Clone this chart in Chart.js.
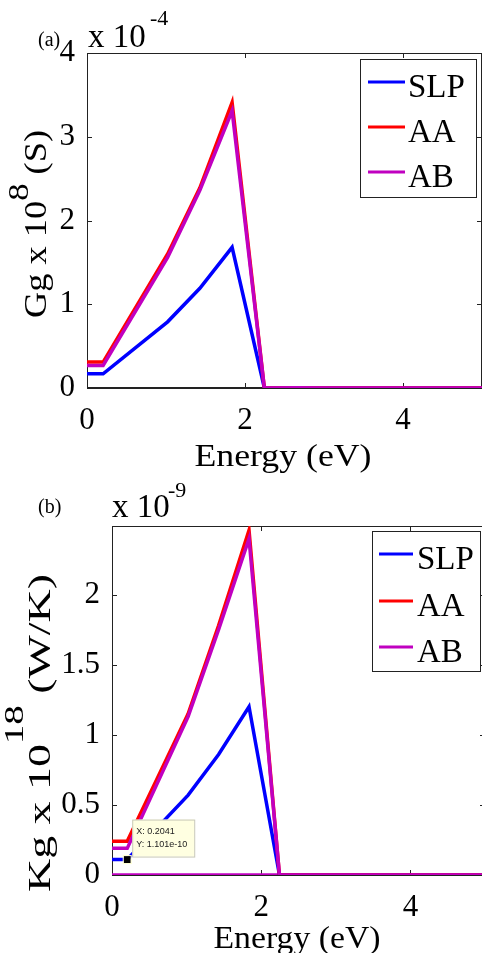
<!DOCTYPE html>
<html>
<head>
<meta charset="utf-8">
<script src="https://cdn.jsdelivr.net/npm/chart.js@4.4.1/dist/chart.umd.min.js"></script>
<style>
  html, body { margin:0; padding:0; background:#fff; width:482px; height:953px; overflow:hidden; }
  canvas { position:absolute; left:0; }
  #cA { top:0; }
  #cB { top:480px; }
</style>
</head>
<body>
<canvas id="cA" width="482" height="480"></canvas>
<canvas id="cB" width="485" height="473"></canvas>
<script>
// energy (eV) at the kinks of the curves
const energy = [0, 0.2041, 1.0204, 1.4286, 1.8367, 2.2449, 2.6531, 3.0612, 5];

// (a) Gg, units of 1e-4
const ggSLP = [0.17, 0.17, 0.79, 1.19, 1.68, 0, 0, 0, 0];
const ggAA  = [0.31, 0.31, 1.60, 2.39, 3.41, 0, 0.003, 0, 0];
const ggAB  = [0.27, 0.27, 1.56, 2.36, 3.31, 0, 0.003, 0, 0];

// (b) Kg, units of 1e-9
const kgSLP = [0.1101, 0.1101, 0.57, 0.86, 1.20, 0, 0, 0, 0];
const kgAA  = [0.24, 0.24, 1.15, 1.78, 2.46, 0, 0, 0, 0];
const kgAB  = [0.19, 0.19, 1.13, 1.75, 2.40, 0, 0, 0, 0];
const kgBaseX = [0, 5];
const kgBase  = [0, 0];

const xTicks  = [0, 2, 4];
const ggTicks = [0, 1, 2, 3, 4];
const kgTicks = [0, 0.5, 1, 1.5, 2];

// data tip on SLP (b)
const tipX = 0.2041, tipY = 0.1101;
const tipLines = ['X: 0.2041', 'Y: 1.101e-10'];

const SERIF = '"Liberation Serif", "Times New Roman", serif';
const COL = { SLP: '#0000ff', AA: '#ff0000', AB: '#c000c0' };

const pts = (xs, ys) => xs.map((x, i) => ({ x, y: ys[i] }));

function ds(label, xs, ys, color, order) {
  return { label, data: pts(xs, ys), borderColor: color, backgroundColor: color, order,
           borderWidth: 3.5, pointRadius: 0, tension: 0, borderJoinStyle: 'miter', fill: false };
}

// rich text: parts = [text, sizeFactor, raisePx]
function drawRich(ctx, parts, size, x, y, len, rotate) {
  ctx.save();
  let w = 0;
  parts.forEach(p => { ctx.font = (size * p[1]) + 'px ' + SERIF; w += ctx.measureText(p[0]).width; });
  const s = len ? len / w : 1;
  ctx.translate(x, y);
  if (rotate) ctx.rotate(-Math.PI / 2);
  ctx.scale(s, 1);
  ctx.fillStyle = '#000';
  ctx.textBaseline = 'alphabetic';
  ctx.textAlign = 'left';
  let cx = -w / 2;
  parts.forEach(p => {
    ctx.font = (size * p[1]) + 'px ' + SERIF;
    ctx.fillText(p[0], cx, -p[2]);
    cx += ctx.measureText(p[0]).width;
  });
  ctx.restore();
}

const deco = {
  id: 'deco',
  beforeDatasetsDraw(chart) {
    const ctx = chart.ctx, a = chart.chartArea;
    const sx = chart.scales.x, sy = chart.scales.y;
    ctx.save();
    // axes box + inward ticks
    ctx.strokeStyle = '#222'; ctx.lineWidth = 1;
    ctx.strokeRect(a.left + 0.5, a.top + 0.5, a.right - a.left - 1, a.bottom - a.top - 1);
    ctx.beginPath();
    sx.ticks.forEach(t => {
      const px = Math.round(sx.getPixelForValue(t.value)) + 0.5;
      ctx.moveTo(px, a.bottom); ctx.lineTo(px, a.bottom - 5);
      ctx.moveTo(px, a.top); ctx.lineTo(px, a.top + 5);
    });
    sy.ticks.forEach(t => {
      const py = Math.round(sy.getPixelForValue(t.value)) + 0.5;
      ctx.moveTo(a.left, py); ctx.lineTo(a.left + 5, py);
      ctx.moveTo(a.right, py); ctx.lineTo(a.right - 5, py);
    });
    ctx.stroke();
    ctx.restore();
  },
  afterDatasetsDraw(chart, args, o) {
    const ctx = chart.ctx;
    const sx = chart.scales.x, sy = chart.scales.y;
    ctx.save();

    // labels
    drawRich(ctx, o.ylabel.parts, o.ylabel.size, o.ylabel.x, o.ylabel.y, o.ylabel.len, true);
    drawRich(ctx, [[o.xlabel.text, 1, 0]], o.xlabel.size, o.xlabel.x, o.xlabel.y, o.xlabel.len, false);

    ctx.fillStyle = '#000';
    ctx.textAlign = 'left'; ctx.textBaseline = 'alphabetic';
    ctx.font = '33px ' + SERIF;
    ctx.fillText('x 10', o.expo.x, o.expo.y);
    ctx.font = '22px ' + SERIF;
    ctx.fillText(o.expo.sup, o.expo.supX, o.expo.supY);
    ctx.font = '20px ' + SERIF;
    ctx.fillText(o.tag.text, o.tag.x, o.tag.y);

    // legend
    const L = o.legend;
    ctx.fillStyle = '#fff';
    ctx.fillRect(L.box[0], L.box[1], L.box[2], L.box[3]);
    ctx.strokeStyle = '#222'; ctx.lineWidth = 1;
    ctx.strokeRect(L.box[0] + 0.5, L.box[1] + 0.5, L.box[2], L.box[3]);
    const items = chart.data.datasets.filter(d => d.label);
    items.forEach((d, i) => {
      const yy = L.rows[i];
      ctx.strokeStyle = d.borderColor; ctx.lineWidth = 3;
      ctx.beginPath(); ctx.moveTo(L.lineX[0], yy); ctx.lineTo(L.lineX[1], yy); ctx.stroke();
      ctx.fillStyle = '#000';
      ctx.font = '33px ' + SERIF;
      ctx.fillText(d.label, L.textX, yy + L.dy);
    });

    // data tip
    if (o.tip) {
      const px = sx.getPixelForValue(tipX), py = sy.getPixelForValue(tipY);
      ctx.fillStyle = '#000';
      ctx.fillRect(px - 3.5, py - 3.5, 7, 7);
      ctx.strokeStyle = '#ffffd0'; ctx.lineWidth = 1;
      ctx.strokeRect(px - 4, py - 4, 8, 8);
      const bx = px + 5, by = py - 40;
      ctx.fillStyle = '#ffffe1';
      ctx.fillRect(bx, by, 62, 37);
      ctx.strokeStyle = '#c8c8b8';
      ctx.strokeRect(bx + 0.5, by + 0.5, 62, 37);
      ctx.fillStyle = '#222';
      ctx.font = '9px "Liberation Sans", Arial, sans-serif';
      ctx.textBaseline = 'middle';
      ctx.fillText(tipLines[0], bx + 4, by + 12);
      ctx.fillText(tipLines[1], bx + 4, by + 25);
    }
    ctx.restore();
  }
};

function makeChart(id, cfg) {
  return new Chart(document.getElementById(id), {
    type: 'line',
    data: { datasets: cfg.datasets },
    options: {
      responsive: false,
      animation: false,
      layout: { padding: { top: cfg.top, right: 0, left: 0, bottom: 0 } },
      plugins: { legend: { display: false }, tooltip: { enabled: false }, deco: cfg.deco },
      scales: {
        x: {
          type: 'linear', min: 0, max: 5,
          afterFit: s => { s.height = cfg.xh; },
          afterBuildTicks: s => { s.ticks = xTicks.map(v => ({ value: v })); },
          grid: { display: false },
          border: { display: true, color: '#222', width: 1 },
          ticks: { color: '#000', font: { family: SERIF, size: 31 }, padding: 6, maxRotation: 0, autoSkip: false,
                   callback: v => String(v) }
        },
        y: {
          type: 'linear', min: 0, max: cfg.ymax,
          afterFit: s => { s.width = cfg.yw; },
          afterBuildTicks: s => { s.ticks = cfg.yTicks.map(v => ({ value: v })); },
          grid: { display: false },
          border: { display: true, color: '#222', width: 1 },
          ticks: { color: '#000', font: { family: SERIF, size: 31 }, padding: 4, autoSkip: false,
                   callback: v => String(v) }
        }
      }
    },
    plugins: [deco]
  });
}

makeChart('cA', {
  top: 53, xh: 92, yw: 87, ymax: 4, yTicks: ggTicks,
  datasets: [
    ds('SLP', energy, ggSLP, COL.SLP, 2),
    ds('AA', energy, ggAA, COL.AA, 1),
    ds('AB', energy, ggAB, COL.AB, 0)
  ],
  deco: {
    ylabel: { parts: [['Gg x 10', 1, 0], ['8', 0.95, 18], [' (S)', 1, 0]], size: 31, x: 46, y: 224, len: 188 },
    xlabel: { text: 'Energy (eV)', size: 31, x: 283, y: 466, len: 177 },
    expo: { x: 88, y: 47, sup: '-4', supX: 150, supY: 25 },
    tag: { text: '(a)', x: 38, y: 46 },
    legend: { box: [360, 59, 116, 138], lineX: [368, 405], rows: [82, 127, 172], textX: 408, dy: 15 }
  }
});

makeChart('cB', {
  top: 46, xh: 78, yw: 112, ymax: 2.49, yTicks: kgTicks,
  datasets: [
    ds('SLP', energy, kgSLP, COL.SLP, 2),
    ds('AA', energy, kgAA, COL.AA, 1),
    ds('AB', energy, kgAB, COL.AB, 0),
    ds('', kgBaseX, kgBase, COL.AB, 3)
  ],
  deco: {
    ylabel: { parts: [['Kg x 10', 1, 0], ['18', 0.85, 27], [' (W/K)', 1, 0]], size: 32, x: 50, y: 253, len: 318 },
    xlabel: { text: 'Energy (eV)', size: 31, x: 297, y: 468, len: 167 },
    expo: { x: 112, y: 37, sup: '-9', supX: 168, supY: 17 },
    tag: { text: '(b)', x: 38, y: 33 },
    legend: { box: [372, 51, 108, 140], lineX: [379, 413], rows: [74, 121, 167], textX: 417, dy: 15 },
    tip: true
  }
});
</script>
</body>
</html>
